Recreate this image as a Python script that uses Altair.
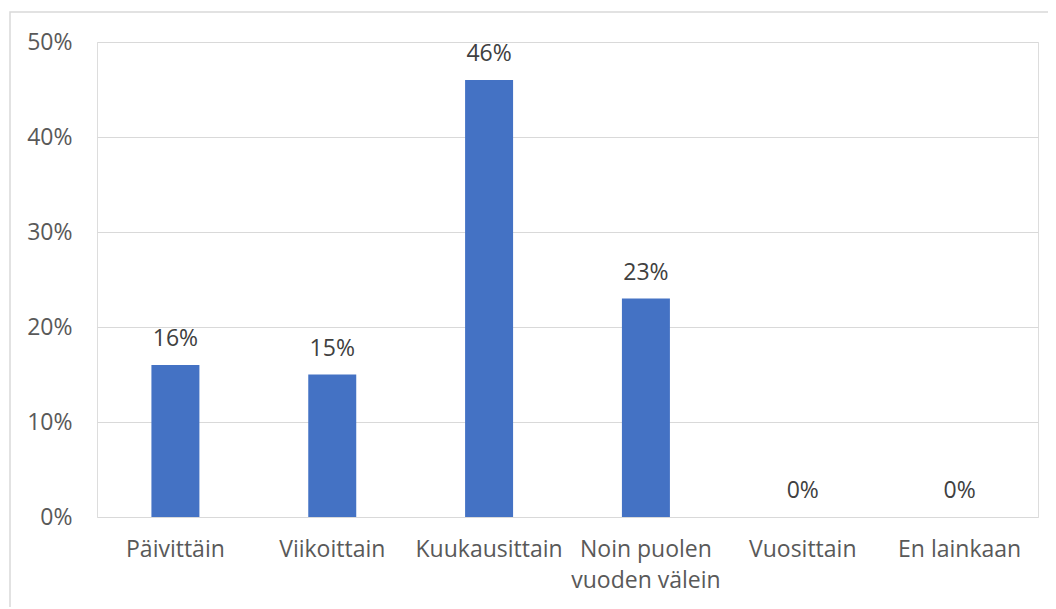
import altair as alt
import pandas as pd

categories = ["Päivittäin", "Viikoittain", "Kuukausittain", "Noin puolen|vuoden välein", "Vuosittain", "En lainkaan"]
values = [16, 15, 46, 23, 0, 0]
value_labels = ["16%", "15%", "46%", "23%", "0%", "0%"]
y_ticks = [0, 10, 20, 30, 40, 50]

df = pd.DataFrame({"cat": categories, "val": values, "lab": value_labels})

FONT = "Open Sans"
FS = 23

x_enc = alt.X(
    "cat:N",
    sort=categories,
    scale=alt.Scale(paddingInner=0.694, paddingOuter=0.347),
    axis=alt.Axis(
        title=None,
        labelAngle=0,
        ticks=False,
        domain=False,
        labelPadding=21,
        labelBaseline="top",
        labelLineHeight=31,
        labelExpr="split(datum.label, '|')",
        labelColor="#595959",
        labelFont=FONT,
        labelFontSize=FS,
    ),
)
y_enc = alt.Y(
    "val:Q",
    scale=alt.Scale(domain=[0, 50], nice=False),
    axis=alt.Axis(
        title=None,
        values=y_ticks,
        labelExpr="datum.value + '%'",
        ticks=False,
        domain=False,
        labelPadding=25,
        labelColor="#595959",
        labelFont=FONT,
        labelFontSize=FS,
        gridColor="#d9d9d9",
        gridWidth=1,
    ),
)

base = alt.Chart(df)
bars = base.mark_bar(color="#4472C4").encode(x=x_enc, y=y_enc)
texts = base.mark_text(
    dy=-19, baseline="alphabetic", font=FONT, fontSize=FS, color="#404040"
).encode(x=alt.X("cat:N", sort=categories), y="val:Q", text="lab:N")

border = alt.Chart(pd.DataFrame({"a": [0]})).mark_rect(
    fill=None, stroke="#d9d9d9", strokeWidth=1.5
).encode(
    x=alt.value(-87), x2=alt.value(1200), y=alt.value(-30), y2=alt.value(800)
)

chart = alt.layer(border, bars, texts).properties(
    width=941,
    height=475,
    autosize=alt.AutoSizeParams(type="none"),
    padding={"left": 89, "top": 34, "right": 10, "bottom": 90},
).configure_view(stroke=None).configure(background="white")

chart.save("out.html", embed_options={"renderer": "svg", "actions": False})
